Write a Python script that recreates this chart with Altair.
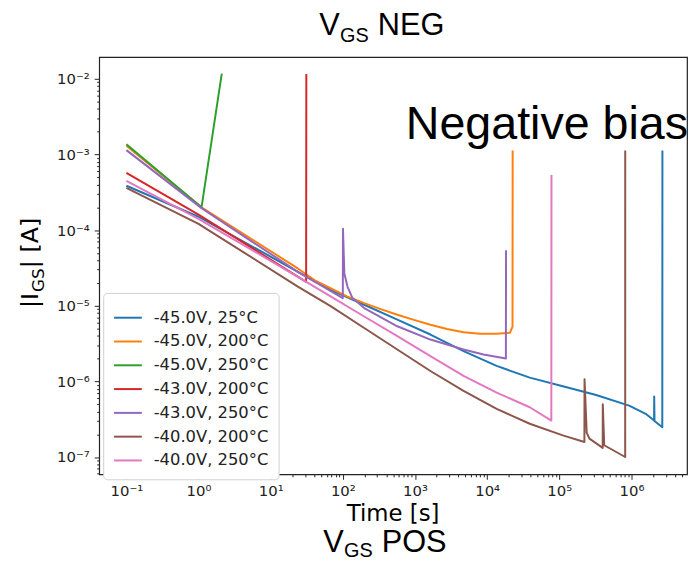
import altair as alt
import pandas as pd
import math

# ---------------- data ----------------
series_names = ["-45.0V, 25°C", "-45.0V, 200°C", "-45.0V, 250°C", "-43.0V, 200°C",
                "-43.0V, 250°C", "-40.0V, 200°C", "-40.0V, 250°C"]
series_colors = ["#1f77b4", "#ff7f0e", "#2ca02c", "#d62728", "#9467bd", "#8c564b", "#e377c2"]

blue_t = [0.1, 1, 23.8, 68.6, 198, 569, 1637, 4715, 1.356e4, 3.9e4, 1.12e5, 3.24e5, 9.3e5,
          1.58e6, 2.06e6, 2.07e6, 2.09e6, 2.68e6, 2.69e6]
blue_i = [3.85e-4, 1.5e-4, 2.81e-5, 1.61e-5, 1.03e-5, 6.53e-6, 4.16e-6, 2.51e-6, 1.6e-6, 1.12e-6,
          8.6e-7, 6.6e-7, 4.78e-7, 3.72e-7, 3.03e-7, 6.3e-7, 3.0e-7, 2.48e-7, 1.13e-3]

orange_t = [0.1, 1.1, 23.8, 40.4, 68.6, 116, 198, 335, 569, 966, 1637, 2778, 4715, 8000,
            1.356e4, 2.07e4, 2.25e4, 2.26e4]
orange_i = [1.3e-3, 2.0e-4, 3.11e-5, 2.18e-5, 1.70e-5, 1.32e-5, 1.08e-5, 9.0e-6, 7.6e-6, 6.5e-6,
            5.6e-6, 4.93e-6, 4.45e-6, 4.25e-6, 4.25e-6, 4.38e-6, 5.3e-6, 1.13e-3]

green_t = [0.1, 1.1, 2.1]
green_i = [1.36e-3, 2.0e-4, 1.17e-2]

red_t = [0.1, 1, 31, 31.2]
red_i = [5.7e-4, 1.6e-4, 2.07e-5, 1.16e-2]

purple_t = [0.1, 1.1, 23.8, 100, 100.5, 105, 116, 136, 198, 569, 1637, 4715, 8900, 1.82e4, 1.83e4]
purple_i = [1.14e-3, 1.95e-4, 2.8e-5, 1.26e-5, 1.04e-4, 2.67e-5, 1.79e-5, 1.26e-5, 9.3e-6,
            5.35e-6, 3.57e-6, 2.64e-6, 2.27e-6, 2.0e-6, 5.4e-5]

brown_t = [0.1, 1, 23.8, 68.6, 198, 569, 1637, 4715, 1.356e4, 3.9e4, 1.12e5, 2.23e5, 2.24e5,
           2.4e5, 2.62e5, 4.0e5, 4.01e5, 4.2e5, 8.2e5, 8.21e5]
brown_i = [3.6e-4, 1.21e-4, 1.79e-5, 9.8e-6, 5.08e-6, 2.64e-6, 1.37e-6, 7.5e-7, 4.33e-7, 2.75e-7,
           1.93e-7, 1.58e-7, 1.07e-6, 2.1e-7, 1.75e-7, 1.32e-7, 5.0e-7, 1.43e-7, 1.0e-7, 1.13e-3]

pink_t = [0.1, 1, 23.8, 68.6, 198, 569, 1637, 4715, 1.356e4, 3.9e4, 7.76e4, 7.8e4]
pink_i = [4.47e-4, 1.41e-4, 2.41e-5, 1.32e-5, 7.2e-6, 3.95e-6, 2.16e-6, 1.18e-6, 7.1e-7, 4.55e-7,
          3.03e-7, 5.36e-4]

x_domain = [0.042, 5.9e6]
y_domain = [5.9e-8, 1.94e-2]

title_top = ["V", "GS", "NEG"]
title_bottom = ["V", "GS", "POS"]
x_title = "Time [s]"
y_title = ["|I", "GS", "| [A]"]
annotation = "Negative bias"

# ---------------- table ----------------
all_t = [blue_t, orange_t, green_t, red_t, purple_t, brown_t, pink_t]
all_i = [blue_i, orange_i, green_i, red_i, purple_i, brown_i, pink_i]
rows = []
for name, ts, vs in zip(series_names, all_t, all_i):
    for k, (t, v) in enumerate(zip(ts, vs)):
        rows.append({"series": name, "t": t, "I": v, "idx": k})
df = pd.DataFrame(rows)

def log_ticks(lo, hi):
    vals = []
    for e in range(math.floor(math.log10(lo)) - 1, math.ceil(math.log10(hi)) + 1):
        for m in range(1, 10):
            v = m * 10 ** e
            if lo <= v <= hi:
                vals.append(v)
    return vals

x_ticks = log_ticks(*x_domain)
y_ticks = log_ticks(*y_domain)

is_major = "abs(log(datum.value)/LN10 - round(log(datum.value)/LN10)) < 1e-6"
sup = "['⁻⁸','⁻⁷','⁻⁶','⁻⁵','⁻⁴','⁻³','⁻²','⁻¹','⁰','¹','²','³','⁴','⁵','⁶','⁷','⁸']"
label_expr = f"{is_major} ? '10' + {sup}[round(log(datum.value)/LN10) + 8] : ''"

def make_axis(vals, pad):
    return alt.Axis(
        values=vals, labelExpr=label_expr, title=None, grid=False, domain=False,
        tickColor="#222", tickWidth=1,
        tickSize={"condition": {"test": is_major, "value": 5}, "value": 2.5},
        labelFont="DejaVu Sans", labelFontSize=15, labelColor="#222",
        labelPadding=pad, labelOverlap=False, labelFlush=False,
    )

W, H = 593, 421

lines = alt.Chart(df).mark_line(strokeWidth=2, clip=True, strokeJoin="round").encode(
    x=alt.X("t:Q", scale=alt.Scale(type="log", domain=x_domain, nice=False), axis=make_axis(x_ticks, 4)),
    y=alt.Y("I:Q", scale=alt.Scale(type="log", domain=y_domain, nice=False), axis=make_axis(y_ticks, 5)),
    color=alt.Color("series:N", scale=alt.Scale(domain=series_names, range=series_colors),
                    legend=alt.Legend(
                        title=None, orient="none", legendX=4, legendY=238,
                        symbolType="stroke", symbolSize=784, symbolStrokeWidth=2,
                        labelFont="DejaVu Sans", labelFontSize=16.5, labelColor="#222",
                        rowPadding=-3.7, padding=10, strokeColor="#d0d0d0", cornerRadius=4,
                        fillColor="white", labelOffset=11, labelLimit=300)),
    order="idx:Q",
)

def txt(text, x, y, size, font="Liberation Sans", align="left", angle=0, dx=0, dy=0):
    kw = dict(fontSize=size, font=font, align=align, baseline="alphabetic", color="black")
    if angle:
        kw["angle"] = angle
    if dx:
        kw["dx"] = dx
    if dy:
        kw["dy"] = dy
    return alt.Chart(pd.DataFrame({"label": [text]})).mark_text(**kw).encode(
        text="label:N", x=alt.value(x), y=alt.value(y))

big = 31
sub = 20
layers = [lines,
          # top title
          txt(title_top[0], 222, -22, big),
          txt(title_top[1], 243, -15, sub),
          txt(title_top[2], 281, -22, big),
          # bottom title
          txt(title_bottom[0], 226, 499, big),
          txt(title_bottom[1], 247, 504, sub),
          txt(title_bottom[2], 285, 499, big),
          # x axis title
          txt(x_title, W / 2, 468, 23, font="DejaVu Sans", align="center"),
          # y axis title
          txt(y_title[0], -62, 238, 24, font="DejaVu Sans", align="right", angle=270),
          txt(y_title[1], -62, 238, 16.8, font="DejaVu Sans", align="left", angle=270, dx=1, dy=6),
          txt(y_title[2], -62, 238, 24, font="DejaVu Sans", align="left", angle=270, dx=25),
          # annotation
          txt(annotation, W + 1, 83, 47, align="right"),
          ]

chart = alt.layer(*layers).properties(
    width=W, height=H,
    padding={"left": 92, "top": 47, "right": 3, "bottom": 86},
    autosize=alt.AutoSizeParams(type="none"),
).configure(background="white").configure_view(stroke="#222", strokeWidth=1.2)

chart.save("out.html", embed_options={"renderer": "svg", "actions": False})
